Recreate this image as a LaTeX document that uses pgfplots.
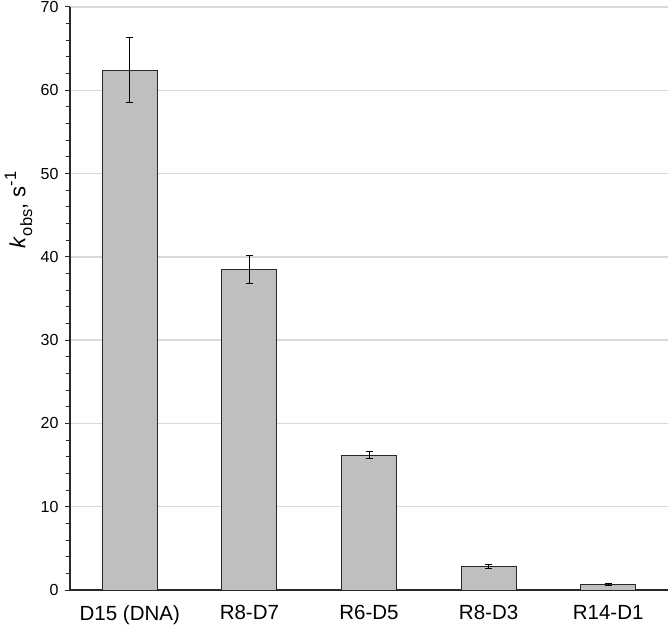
\documentclass[border=0pt]{standalone}
\usepackage{pgfplots}
\pgfplotsset{compat=1.18}
\usepackage{fontspec}
\setmainfont{Liberation Sans}
\definecolor{barfill}{RGB}{191,191,191}
\definecolor{gridc}{RGB}{217,217,217}
\definecolor{axc}{RGB}{40,40,40}
\begin{document}
\begin{tikzpicture}[x=1pt,y=1pt]
\begin{axis}[
  scale only axis,
  width=598pt, height=583pt,
  xmin=-0.5, xmax=4.5,
  ymin=0, ymax=70,
  axis x line*=bottom,
  axis y line*=left,
  axis line style={axc, line width=1.3pt, -},
  xtick={0,1,2,3,4},
  xticklabels={D15 (DNA),R8-D7,R6-D5,R8-D3,R14-D1},
  xtick style={draw=none},
  xticklabel style={font=\fontsize{20.5}{24}\selectfont, yshift=-7pt},
  ytick={0,10,...,70},
  minor y tick num=4,
  tick align=outside,
  major tick length=5pt,
  minor tick length=4pt,
  ytick style={axc, line width=1pt},
  minor tick style={axc, line width=1pt},
  yticklabel style={font=\fontsize{16}{18}\selectfont, xshift=-3pt},
  /pgf/number format/assume math mode=true,
  ymajorgrids,
  grid style={gridc, line width=1.3pt},
  ylabel={\fontsize{22}{24}\selectfont\textit{k}\raisebox{-0.3em}{\fontsize{16.5}{17}\selectfont obs}, s\raisebox{0.42em}{\fontsize{16.5}{17}\selectfont -1}},
  ylabel style={at={(axis description cs:-0.086,0.652)}, anchor=center},
  clip=false,
]
\addplot[ybar, bar width=55pt, fill=barfill, draw=axc, line width=1pt,
  error bars/.cd, y dir=both, y explicit,
  error bar style={black, line width=1pt},
  error mark options={black, line width=1pt, mark size=3.5pt, rotate=90}]
  coordinates {
  (0,62.4) +- (0,3.9)
  (1,38.5) +- (0,1.7)
  (2,16.2) +- (0,0.4)
  (3,2.8) +- (0,0.25)
  (4,0.65) +- (0,0.1)
  };
\end{axis}
\pgfresetboundingbox
\useasboundingbox (-70pt,-38pt) rectangle (598pt,590pt);
\end{tikzpicture}
\end{document}
